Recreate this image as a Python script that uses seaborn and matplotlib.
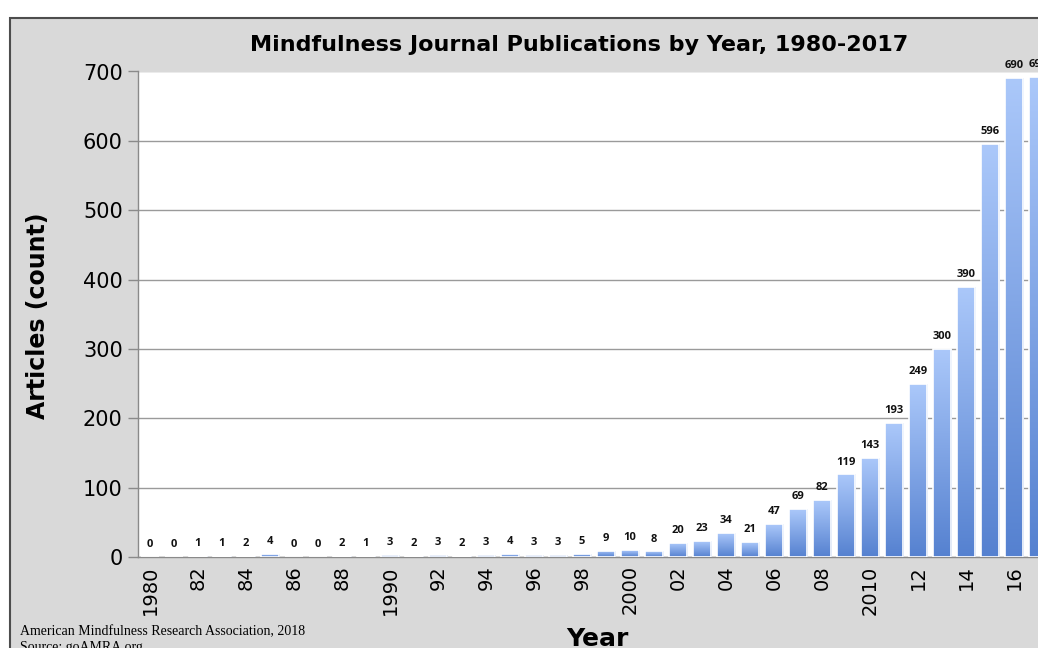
import numpy as np
import pandas as pd
import matplotlib.pyplot as plt
import seaborn as sns
from matplotlib.patches import Rectangle
from matplotlib.colors import LinearSegmentedColormap

# data
years = [str(y) for y in range(1980, 2018)]
articles = [0, 0, 1, 1, 2, 4, 0, 0, 2, 1,
            3, 2, 3, 2, 3, 4, 3, 3, 5, 9,
            10, 8, 20, 23, 34, 21, 47, 69, 82, 119,
            143, 193, 249, 300, 390, 596, 690, 692]
tick_labels = ["1980", "82", "84", "86", "88", "1990", "92", "94", "96", "98",
               "2000", "02", "04", "06", "08", "2010", "12", "14", "16"]
yticks = [0, 100, 200, 300, 400, 500, 600, 700]

df = pd.DataFrame({"Year": years, "Articles": articles})

W, H = 1038, 648
sns.set_style("white")
plt.rcParams['font.family'] = ['DejaVu Sans']
plt.rcParams['text.color'] = 'black'
plt.rcParams['xtick.color'] = 'black'
plt.rcParams['ytick.color'] = 'black'

fig = plt.figure(figsize=(W / 100, H / 100), dpi=100)
fig.patch.set_facecolor("white")
# grey slide frame
fig.patches.append(Rectangle((10 / W, -0.01), 1.0, (H - 18) / H + 0.01,
                             transform=fig.transFigure, facecolor="#d9d9d9",
                             edgecolor="#4d4d4d", lw=1.5, zorder=-5))

ax = fig.add_axes([138 / W, 1 - 557 / H, 900 / W, (557 - 71.5) / H])
sns.barplot(data=df, x="Year", y="Articles", ax=ax, width=0.76,
            color="#7fa3e6", edgecolor="white", linewidth=1.2, zorder=3)

ax.set_facecolor("white")

# vertical gradient on every bar (dark at the base, light at the top)
cmap = LinearSegmentedColormap.from_list("bar", ["#5581d0", "#abc8fa"])
grad = np.linspace(0, 1, 256).reshape(-1, 1)
for p in list(ax.patches):
    x0, w, h = p.get_x(), p.get_width(), p.get_height()
    p.set_facecolor("none")
    if h <= 0:
        continue
    im = ax.imshow(grad, extent=(x0, x0 + w, 0, h), origin="lower",
                   aspect="auto", cmap=cmap, zorder=2.9)
    im.set_clip_path(p)
ax.set_xlim(-0.5, 37.0)
ax.set_ylim(0, 700)

# value labels
for i, v in enumerate(articles):
    ax.annotate(str(v), (i, v), xytext=(0, 5), textcoords="offset points",
                ha="center", va="bottom", fontsize=8, fontweight="bold",
                family=["Open Sans", "DejaVu Sans"],
                color="#111111", annotation_clip=False, zorder=5)

ax.set_yticks(yticks)
ax.set_yticklabels([str(t) for t in yticks], fontsize=15)
ax.yaxis.grid(True, color="#9a9a9a", lw=1, zorder=0)
ax.set_axisbelow(True)

ax.set_xticks(range(0, 38, 2))
ax.set_xticklabels(tick_labels, rotation=90, fontsize=14)
ax.set_xticks(np.arange(-0.5, 37.5, 1), minor=True)
ax.tick_params(axis="x", which="major", length=0, pad=6)
ax.tick_params(axis="x", which="minor", length=6, color="#8a8a8a", width=1)
ax.tick_params(axis="y", length=7, color="#8a8a8a", width=1, pad=4, left=True)

for s in ["top", "right"]:
    ax.spines[s].set_visible(False)
for s in ["left", "bottom"]:
    ax.spines[s].set_color("#8a8a8a")
    ax.spines[s].set_linewidth(1)

ax.set_xlabel("")
ax.set_ylabel("")

fig.text(579 / W, 1 - 45 / H, "Mindfulness Journal Publications by Year, 1980-2017",
         ha="center", va="center", fontsize=16, fontweight="bold")
fig.text(38 / W, 1 - 316 / H, "Articles (count)", rotation=90,
         ha="center", va="center", fontsize=17, fontweight="bold")
fig.text(597 / W, 1 - 646 / H, "Year", ha="center", va="baseline",
         fontsize=18, fontweight="bold")
fig.text(20 / W, 1 - 632 / H, "American Mindfulness Research Association, 2018",
         ha="left", va="center", fontsize=10, family=["Liberation Serif"])
fig.text(20 / W, 1 - 641 / H, "Source: goAMRA.org",
         ha="left", va="top", fontsize=10, family=["Liberation Serif"])

fig.savefig("out.png", dpi=100)
